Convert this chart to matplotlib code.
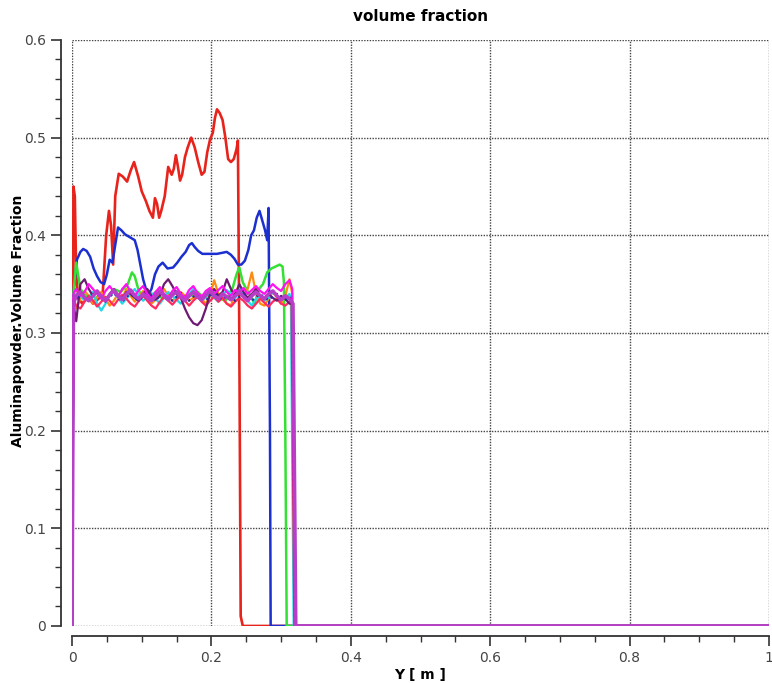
import matplotlib
matplotlib.use("Agg")
import matplotlib.pyplot as plt
from matplotlib.ticker import MultipleLocator

# red curve (highest volume fraction)
red_x = [0.000, 0.002, 0.004, 0.006, 0.009, 0.015, 0.022, 0.030, 0.038, 0.044,
         0.049, 0.053, 0.056, 0.059, 0.062, 0.067, 0.073, 0.079, 0.084, 0.089,
         0.095, 0.100, 0.106, 0.111, 0.116, 0.119, 0.122, 0.125, 0.128, 0.133,
         0.138, 0.143, 0.146, 0.149, 0.152, 0.155, 0.158, 0.162, 0.166, 0.171,
         0.176, 0.181, 0.186, 0.190, 0.194, 0.198, 0.202, 0.205, 0.208, 0.212,
         0.216, 0.220, 0.224, 0.228, 0.232, 0.236, 0.238, 0.240, 0.242, 0.245, 1.0]
red_y = [0.0, 0.45, 0.44, 0.36, 0.335, 0.33, 0.338, 0.33, 0.335, 0.34,
         0.40, 0.425, 0.41, 0.37, 0.44, 0.463, 0.46, 0.455, 0.466, 0.475,
         0.46, 0.445, 0.435, 0.425, 0.418, 0.438, 0.432, 0.418, 0.425, 0.44,
         0.47, 0.462, 0.468, 0.482, 0.47, 0.456, 0.462, 0.48, 0.49, 0.50,
         0.49, 0.475, 0.462, 0.465, 0.485, 0.498, 0.505, 0.52, 0.529, 0.525,
         0.518, 0.50, 0.478, 0.475, 0.478, 0.488, 0.497, 0.30, 0.01, 0.0, 0.0]

# blue curve
blue_x = [0.000, 0.002, 0.007, 0.012, 0.016, 0.021, 0.026, 0.031, 0.036, 0.041,
          0.046, 0.050, 0.054, 0.058, 0.062, 0.066, 0.071, 0.076, 0.083, 0.090,
          0.094, 0.098, 0.102, 0.106, 0.110, 0.114, 0.119, 0.124, 0.130, 0.137,
          0.145, 0.151, 0.157, 0.163, 0.168, 0.172, 0.176, 0.181, 0.187, 0.193,
          0.200, 0.208, 0.215, 0.222, 0.228, 0.233, 0.238, 0.243, 0.248, 0.253,
          0.257, 0.261, 0.265, 0.269, 0.273, 0.277, 0.280, 0.282, 0.284, 0.285,
          0.287, 1.0]
blue_y = [0.0, 0.34, 0.375, 0.383, 0.386, 0.384, 0.378, 0.366, 0.358, 0.352,
          0.35, 0.36, 0.375, 0.372, 0.39, 0.408, 0.405, 0.401, 0.398, 0.395,
          0.385, 0.37, 0.355, 0.345, 0.34, 0.345, 0.36, 0.368, 0.372, 0.366,
          0.367, 0.372, 0.378, 0.383, 0.39, 0.392, 0.388, 0.384, 0.381, 0.381,
          0.381, 0.381, 0.382, 0.383, 0.38, 0.376, 0.37, 0.37, 0.374, 0.385,
          0.40, 0.405, 0.418, 0.425, 0.415, 0.405, 0.395, 0.428, 0.2, 0.0,
          0.0, 0.0]

# green curve
green_x = [0.000, 0.002, 0.006, 0.012, 0.020, 0.030, 0.040, 0.050, 0.060, 0.070,
           0.080, 0.086, 0.090, 0.095, 0.100, 0.110, 0.120, 0.130, 0.140, 0.150,
           0.160, 0.170, 0.180, 0.190, 0.200, 0.210, 0.220, 0.230, 0.236, 0.240,
           0.245, 0.250, 0.256, 0.262, 0.268, 0.274, 0.280, 0.286, 0.292, 0.298,
           0.302, 0.304, 0.306, 0.308, 0.310, 1.0]
green_y = [0.0, 0.34, 0.372, 0.345, 0.338, 0.332, 0.34, 0.335, 0.345, 0.342,
           0.35, 0.362, 0.358, 0.345, 0.338, 0.335, 0.342, 0.335, 0.34, 0.343,
           0.335, 0.338, 0.342, 0.336, 0.34, 0.336, 0.333, 0.345, 0.36, 0.367,
           0.352, 0.345, 0.338, 0.33, 0.345, 0.35, 0.362, 0.366, 0.368, 0.37,
           0.368, 0.352, 0.2, 0.0, 0.0, 0.0]

# shared positions for the curves that stay around 0.33-0.35
band_x = [0.000, 0.002, 0.006, 0.012, 0.018, 0.024, 0.030, 0.036, 0.042,
          0.048, 0.054, 0.060, 0.066, 0.072, 0.078, 0.084, 0.090, 0.096,
          0.102, 0.108, 0.114, 0.120, 0.126, 0.132, 0.138, 0.144, 0.150,
          0.156, 0.162, 0.168, 0.174, 0.180, 0.186, 0.192, 0.198, 0.204,
          0.210, 0.216, 0.222, 0.228, 0.234, 0.240, 0.246, 0.252, 0.258,
          0.264, 0.270, 0.276, 0.282, 0.288, 0.294, 0.300, 0.306, 0.312]

orange_y = [0.0, 0.33, 0.325, 0.335, 0.343, 0.338, 0.33, 0.336, 0.342,
            0.335, 0.328, 0.333, 0.34, 0.336, 0.345, 0.338, 0.332, 0.337,
            0.343, 0.336, 0.33, 0.334, 0.34, 0.345, 0.338, 0.333, 0.337,
            0.342, 0.338, 0.333, 0.336, 0.34, 0.335, 0.33, 0.338, 0.354,
            0.34, 0.335, 0.33, 0.328, 0.34, 0.35, 0.338, 0.345, 0.362,
            0.34, 0.33, 0.328, 0.335, 0.342, 0.336, 0.33, 0.338, 0.355]
cyan_y = [0.0, 0.335, 0.34, 0.338, 0.333, 0.337, 0.342, 0.33, 0.323,
          0.33, 0.338, 0.342, 0.336, 0.33, 0.335, 0.34, 0.345, 0.338,
          0.333, 0.337, 0.341, 0.335, 0.33, 0.336, 0.342, 0.338, 0.334,
          0.33, 0.336, 0.34, 0.345, 0.338, 0.333, 0.337, 0.34, 0.336,
          0.332, 0.338, 0.344, 0.34, 0.335, 0.348, 0.34, 0.333, 0.328,
          0.335, 0.338, 0.333, 0.336, 0.342, 0.338, 0.334, 0.336, 0.34]
pink_y = [0.0, 0.335, 0.328, 0.325, 0.332, 0.338, 0.333, 0.327, 0.332,
          0.337, 0.333, 0.328, 0.334, 0.339, 0.335, 0.33, 0.327, 0.333,
          0.338, 0.333, 0.328, 0.325, 0.332, 0.337, 0.333, 0.329, 0.334,
          0.338, 0.333, 0.328, 0.333, 0.337, 0.332, 0.328, 0.333, 0.337,
          0.332, 0.336, 0.33, 0.327, 0.332, 0.336, 0.333, 0.328, 0.325,
          0.33, 0.335, 0.331, 0.327, 0.332, 0.335, 0.33, 0.328, 0.332]
purple_y = [0.0, 0.33, 0.312, 0.35, 0.355, 0.345, 0.338, 0.342, 0.336,
            0.332, 0.34, 0.345, 0.338, 0.335, 0.342, 0.34, 0.336, 0.333,
            0.34, 0.345, 0.338, 0.334, 0.338, 0.35, 0.355, 0.348, 0.34,
            0.336, 0.325, 0.316, 0.31, 0.308, 0.313, 0.325, 0.34, 0.345,
            0.338, 0.342, 0.355, 0.345, 0.338, 0.35, 0.342, 0.336, 0.34,
            0.345, 0.338, 0.335, 0.34, 0.336, 0.333, 0.338, 0.335, 0.33]
navy_y = [0.0, 0.338, 0.335, 0.34, 0.337, 0.333, 0.338, 0.342, 0.336,
          0.333, 0.337, 0.341, 0.336, 0.332, 0.337, 0.34, 0.336, 0.333,
          0.338, 0.341, 0.336, 0.333, 0.338, 0.34, 0.336, 0.333, 0.337,
          0.341, 0.337, 0.333, 0.337, 0.34, 0.336, 0.333, 0.338, 0.341,
          0.337, 0.334, 0.338, 0.336, 0.333, 0.337, 0.34, 0.336, 0.333,
          0.337, 0.34, 0.336, 0.334, 0.337, 0.34, 0.336, 0.334, 0.337]
magenta_y = [0.0, 0.34, 0.345, 0.338, 0.342, 0.35, 0.345, 0.34, 0.335,
             0.343, 0.348, 0.342, 0.337, 0.345, 0.35, 0.342, 0.338, 0.344,
             0.348, 0.34, 0.335, 0.342, 0.347, 0.34, 0.336, 0.343, 0.347,
             0.34, 0.336, 0.344, 0.348, 0.341, 0.337, 0.343, 0.346, 0.34,
             0.344, 0.348, 0.342, 0.338, 0.344, 0.342, 0.346, 0.34, 0.344,
             0.348, 0.343, 0.34, 0.345, 0.35, 0.346, 0.343, 0.35, 0.354]
violet_y = [0.0, 0.33, 0.338, 0.342, 0.336, 0.333, 0.338, 0.343, 0.337,
            0.333, 0.339, 0.344, 0.338, 0.334, 0.34, 0.344, 0.338, 0.335,
            0.34, 0.336, 0.333, 0.338, 0.343, 0.338, 0.334, 0.339, 0.342,
            0.337, 0.333, 0.338, 0.342, 0.337, 0.334, 0.339, 0.343, 0.338,
            0.335, 0.34, 0.337, 0.334, 0.338, 0.342, 0.337, 0.333, 0.338,
            0.342, 0.338, 0.335, 0.34, 0.343, 0.338, 0.334, 0.338, 0.335]

# end of each band curve: last value, drop point, right edge
orange_tail = ([0.316, 0.319, 1.0], [0.34, 0.0, 0.0])
cyan_tail = ([0.314, 0.318, 1.0], [0.335, 0.0, 0.0])
pink_tail = ([0.315, 0.319, 1.0], [0.33, 0.0, 0.0])
purple_tail = ([0.316, 0.320, 1.0], [0.33, 0.0, 0.0])
navy_tail = ([0.316, 0.320, 1.0], [0.335, 0.0, 0.0])
magenta_tail = ([0.316, 0.320, 1.0], [0.345, 0.0, 0.0])
violet_tail = ([0.317, 0.321, 1.0], [0.33, 0.0, 0.0])

fig = plt.figure(figsize=(7.72, 6.83), dpi=100)
ax = fig.add_axes([0.0933, 0.0835, 0.9028, 0.858])

ax.plot(red_x, red_y, color='#e8231c', lw=1.9, zorder=3)
ax.plot(blue_x, blue_y, color='#1c2fd0', lw=1.8, zorder=3)
ax.plot(green_x, green_y, color='#33e033', lw=1.8, zorder=3)

band = [
    (orange_y, orange_tail, '#ff8a10', '-', 1.6),
    (cyan_y, cyan_tail, '#20d8e8', '-', 1.6),
    (pink_y, pink_tail, '#ff2a60', '-', 1.6),
    (purple_y, purple_tail, '#6e1a72', '-', 1.6),
    (navy_y, navy_tail, '#2030a0', ':', 1.6),
    (magenta_y, magenta_tail, '#ff10f0', '-', 1.6),
    (violet_y, violet_tail, '#b73fc8', '-', 2.6),
]
for yy, tail, col, ls, lw in band:
    ax.plot(band_x + tail[0], yy + tail[1], color=col, ls=ls, lw=lw, zorder=3)

ax.set_xlim(0, 1)
ax.set_ylim(0, 0.6)
ax.xaxis.set_minor_locator(MultipleLocator(0.05))
ax.yaxis.set_minor_locator(MultipleLocator(0.02))
ax.set_yticks([0, 0.1, 0.2, 0.3, 0.4, 0.5, 0.6])
ax.set_yticklabels(['0', '0.1', '0.2', '0.3', '0.4', '0.5', '0.6'])
ax.set_xticks([0, 0.2, 0.4, 0.6, 0.8, 1.0])
ax.set_xticklabels(['0', '0.2', '0.4', '0.6', '0.8', '1'])

ax.grid(True, which='major', color='#444444', ls=(0, (1, 1)), lw=1.0, zorder=1)

for s in ['top', 'right']:
    ax.spines[s].set_visible(False)
ax.spines['left'].set_position(('outward', 8))
ax.spines['bottom'].set_position(('outward', 7))
for s in ['left', 'bottom']:
    ax.spines[s].set_color('#333333')
    ax.spines[s].set_linewidth(1.3)

ax.tick_params(which='major', length=7, width=1.2, color='#333333',
               labelsize=10, labelcolor='#444444', pad=4)
ax.tick_params(which='minor', length=4, width=1.0, color='#333333')

ax.set_title('volume fraction', fontsize=11, fontweight='bold', pad=14)
ax.set_xlabel('Y [ m ]', fontsize=10, fontweight='bold', labelpad=2)
ax.set_ylabel('Aluminapowder.Volume Fraction', fontsize=10, fontweight='bold')
ax.yaxis.set_label_coords(-0.067, 0.52)

fig.savefig('out.png', dpi=100)
